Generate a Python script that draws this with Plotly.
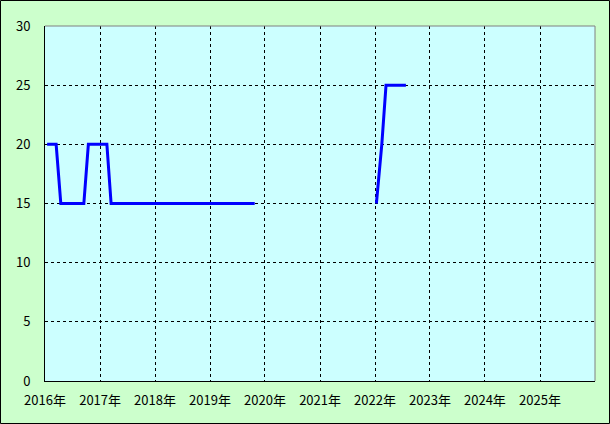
import plotly.graph_objects as go

# Data
dates = ["2016-01-15", "2016-03-15", "2016-04-15", "2016-09-15", "2016-10-15",
         "2017-02-15", "2017-03-15", "2019-10-25", "2020-12-15",
         "2022-01-10", "2022-02-15", "2022-03-15", "2022-07-25"]
values = [20, 20, 15, 15, 20, 20, 15, 15, None, 15, 20, 25, 25]

year_ticks = ["2016-01-01", "2017-01-01", "2018-01-01", "2019-01-01", "2020-01-01",
              "2021-01-01", "2022-01-01", "2023-01-01", "2024-01-01", "2025-01-01"]
year_labels = ["2016年", "2017年", "2018年", "2019年", "2020年",
               "2021年", "2022年", "2023年", "2024年", "2025年"]
y_ticks = [0, 5, 10, 15, 20, 25, 30]

W, H = 610, 424
L, R, T, B = 45, 15, 26, 43
pw, ph = W - L - R, H - T - B

fig = go.Figure()
fig.add_trace(go.Scatter(x=dates, y=values, mode="lines",
                         line=dict(color="#0000ff", width=3),
                         connectgaps=False, hoverinfo="skip"))

font = dict(family="Noto Sans CJK JP, sans-serif", size=13, color="#000000")

fig.update_layout(
    width=W, height=H,
    margin=dict(l=L, r=R, t=T, b=B, pad=0),
    paper_bgcolor="#ccffcc",
    plot_bgcolor="#ccffff",
    showlegend=False,
    font=font,
    xaxis=dict(type="date", range=["2016-01-01", "2026-01-01"],
               tickmode="array", tickvals=year_ticks, ticktext=year_labels,
               showgrid=True, gridcolor="#000000", gridwidth=1, griddash="3px,3px",
               showline=True, linecolor="#000000", linewidth=1,
               ticks="outside", ticklen=7, tickcolor="rgba(0,0,0,0)",
               zeroline=False, tickfont=font, fixedrange=True),
    yaxis=dict(range=[0, 30], tickmode="array", tickvals=y_ticks,
               showgrid=True, gridcolor="#000000", gridwidth=1, griddash="3px,3px",
               showline=True, linecolor="#000000", linewidth=1,
               ticks="outside", ticklen=11, tickcolor="rgba(0,0,0,0)",
               zeroline=False, tickfont=font, fixedrange=True),
)

# top and right gray border of plot area
fig.add_shape(type="line", xref="paper", yref="paper", x0=0, x1=1, y0=1, y1=1,
              line=dict(color="#808080", width=1), layer="above")
fig.add_shape(type="line", xref="paper", yref="paper", x0=1, x1=1, y0=0, y1=1,
              line=dict(color="#808080", width=1), layer="above")
# outer black frame
fig.add_shape(type="rect", xref="paper", yref="paper",
              x0=(0.5 - L) / pw, x1=(W - 0.5 - L) / pw,
              y0=-(B - 0.5) / ph, y1=1 + (T - 0.5) / ph,
              line=dict(color="#000000", width=1), layer="above")

fig.write_html("out.html", config={"displayModeBar": False},
               post_script="document.body.style.margin='0';document.body.style.overflow='hidden';")
